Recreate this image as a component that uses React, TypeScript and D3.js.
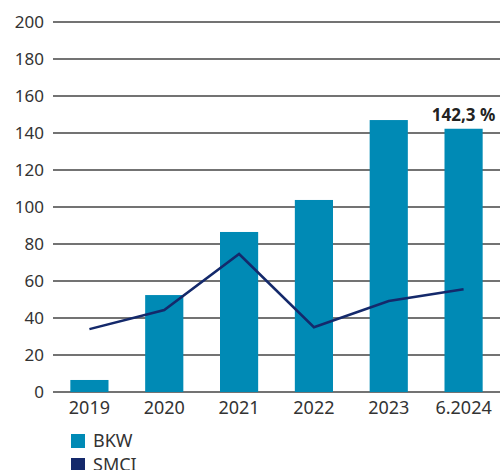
import * as d3 from "d3";

const categories = ["2019", "2020", "2021", "2022", "2023", "6.2024"];
const bkwValues = [6.5, 52.4, 86.5, 103.8, 147, 142.3];
const smciValues = [34, 44.3, 74.6, 35, 49.2, 55.5];
const yTicks = [0, 20, 40, 60, 80, 100, 120, 140, 160, 180, 200];
const legendItems = ["BKW", "SMCI"];

const width = 500;
const height = 470;
const margin = { top: 22, right: 0, bottom: 78, left: 53 };

const barColor = "#008AB5";
const lineColor = "#14296B";
const font = "'Noto Sans', sans-serif";

export default function App() {
  const x = d3
    .scaleBand()
    .domain(categories)
    .range([margin.left - 1, width + 1])
    .paddingInner(0.49)
    .paddingOuter(0.245);

  const y = d3
    .scaleLinear()
    .domain([0, 200])
    .range([height - margin.bottom, margin.top]);

  const line = d3
    .line<number>()
    .x((_, i) => (x(categories[i]) ?? 0) + x.bandwidth() / 2)
    .y((d) => y(d));

  const last = categories.length - 1;

  return (
    <svg
      width={width}
      height={height}
      style={{ position: "absolute", left: 0, top: 0, background: "#fff" }}
      fontFamily={font}
    >
      {/* gridlines + y labels */}
      {yTicks.map((t) => (
        <g key={t}>
          <line
            x1={margin.left}
            x2={width}
            y1={y(t)}
            y2={y(t)}
            stroke="#444"
            strokeWidth={1.3}
          />
          <text
            x={44}
            y={y(t)}
            dy="0.35em"
            textAnchor="end"
            fontSize={17}
            fill="#333"
          >
            {t}
          </text>
        </g>
      ))}

      {/* bars */}
      {categories.map((c, i) => (
        <rect
          key={c}
          x={x(c)}
          y={y(bkwValues[i])}
          width={x.bandwidth()}
          height={y(0) - y(bkwValues[i])}
          fill={barColor}
        />
      ))}

      {/* x labels */}
      {categories.map((c) => (
        <text
          key={c}
          x={(x(c) ?? 0) + x.bandwidth() / 2}
          y={y(0) + 22}
          textAnchor="middle"
          fontSize={18}
          fill="#333"
        >
          {c}
        </text>
      ))}

      {/* SMCI line */}
      <path
        d={line(smciValues) ?? ""}
        fill="none"
        stroke={lineColor}
        strokeWidth={2.5}
        strokeLinejoin="miter"
      />

      {/* value label on last bar */}
      <text
        x={(x(categories[last]) ?? 0) + x.bandwidth() / 2}
        y={y(bkwValues[last]) - 8}
        textAnchor="middle"
        fontSize={17}
        fontWeight="bold"
        fill="#222"
      >
        {String(bkwValues[last]).replace(".", ",") + " %"}
      </text>

      {/* legend */}
      {legendItems.map((name, i) => (
        <g key={name} transform={`translate(71, ${434 + i * 24})`}>
          <rect width={14} height={14} fill={i === 0 ? barColor : lineColor} />
          <text x={22} y={13} fontSize={18} fill="#333">
            {name}
          </text>
        </g>
      ))}
    </svg>
  );
}
